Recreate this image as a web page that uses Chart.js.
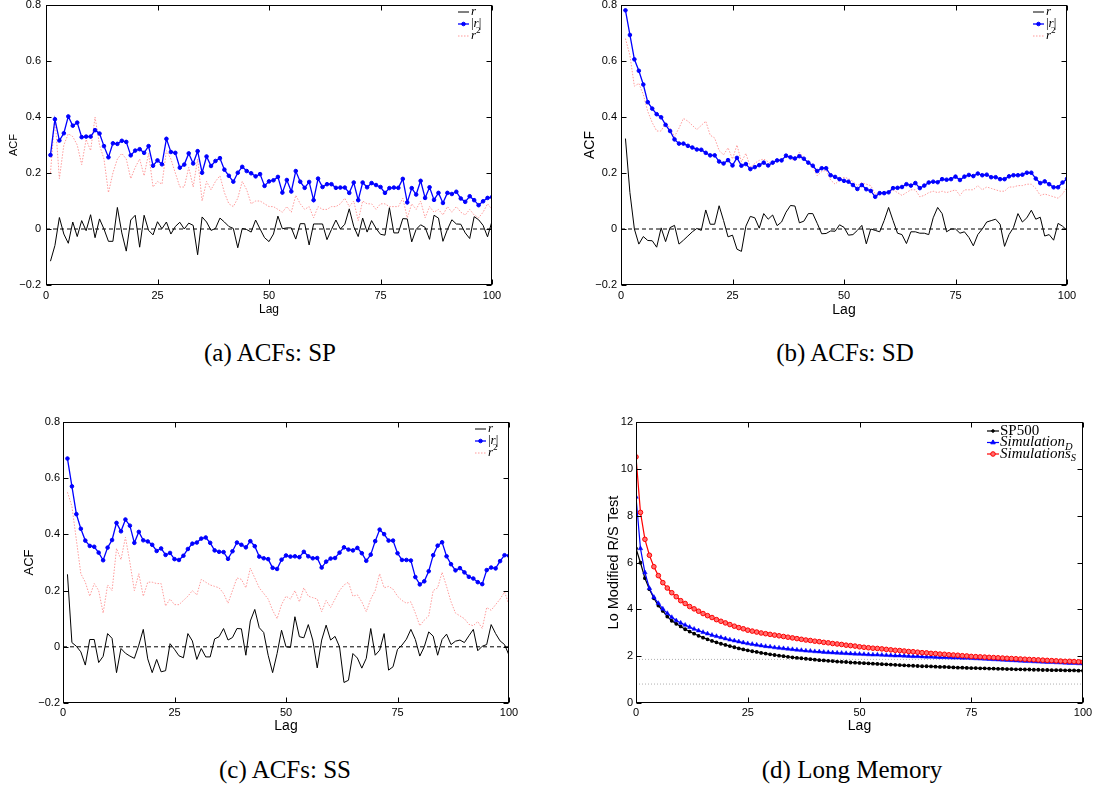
<!DOCTYPE html>
<html><head><meta charset="utf-8">
<script src="https://cdn.jsdelivr.net/npm/chart.js@4.4.1/dist/chart.umd.min.js"></script>
<style>
html,body{margin:0;padding:0;background:#fff;}
body{width:1101px;height:787px;position:relative;overflow:hidden;}
.pane{position:absolute;}
.cap{position:absolute;font-family:"Liberation Serif","Times New Roman",serif;font-size:25px;color:#000;white-space:nowrap;transform:translate(-50%,-50%);}
</style></head><body>
<div class="pane" style="left:0;top:0;width:550px;height:320px"><canvas id="ca"></canvas></div>
<div class="pane" style="left:560px;top:0;width:540px;height:320px"><canvas id="cb"></canvas></div>
<div class="pane" style="left:0;top:400px;width:550px;height:340px"><canvas id="cc"></canvas></div>
<div class="pane" style="left:560px;top:400px;width:540px;height:340px"><canvas id="cd"></canvas></div>
<div class="cap" id="capA" style="left:270px;top:353px"></div>
<div class="cap" id="capB" style="left:845px;top:353px"></div>
<div class="cap" id="capC" style="left:285px;top:770px"></div>
<div class="cap" id="capD" style="left:852px;top:770px"></div>
<script>
// ---------------- DATA ----------------
const captions = ['(a) ACFs: SP', '(b) ACFs: SD', '(c) ACFs: SS', '(d) Long Memory'];
const xTitle = 'Lag';
const acfTitle = 'ACF';
const lrsTitle = 'Lo Modified R/S Test';
const acfLabels = ['r', '|r|', 'r^2'];
const lrsLabels = ['SP500', 'Simulation_D', 'Simulations_S'];
const xTicks = [0, 25, 50, 75, 100];
const acfYTicks = [-0.2, 0, 0.2, 0.4, 0.6, 0.8];
const lrsYTicks = [0, 2, 4, 6, 8, 10, 12];
const zeroLineX = [0, 100];
const zeroLineY = [0, 0];
const loCritical = [0.809, 1.862];

const lagsACF = []; for (let i = 1; i <= 100; i++) lagsACF.push(i);
const lagsLRS = []; for (let i = 0; i <= 100; i++) lagsLRS.push(i);

// (a) SP
const rSP = [-0.115,-0.059,0.041,-0.018,-0.051,0.025,-0.027,0.030,-0.006,0.051,
-0.031,0.036,0.000,-0.044,-0.044,0.077,-0.014,-0.079,0.032,0.049,
-0.065,0.049,-0.005,-0.021,0.026,0.001,0.025,-0.018,0.009,0.024,
0.000,0.021,0.013,-0.092,0.043,0.025,-0.005,0.002,0.039,0.025,
0.009,0.002,-0.067,0.002,-0.002,-0.011,0.032,0.000,-0.031,-0.045,
-0.018,0.046,0.001,0.004,0.004,-0.036,0.019,0.019,-0.057,0.018,
0.018,0.018,-0.038,-0.002,0.032,0.000,0.017,0.072,0.009,-0.027,
0.039,-0.011,0.030,0.002,-0.019,-0.022,0.076,-0.014,-0.014,0.037,
0.036,-0.046,-0.001,0.015,0.006,-0.037,0.049,0.039,-0.044,-0.002,
0.033,0.018,0.017,-0.014,-0.034,0.044,0.033,0.013,-0.028,0.028];
const absSP = [0.264,0.392,0.316,0.342,0.402,0.369,0.380,0.328,0.330,0.330,
0.353,0.341,0.296,0.256,0.306,0.304,0.315,0.311,0.263,0.280,
0.285,0.272,0.296,0.226,0.245,0.231,0.322,0.275,0.272,0.219,
0.230,0.270,0.234,0.278,0.201,0.259,0.225,0.243,0.253,0.212,
0.190,0.169,0.201,0.222,0.207,0.199,0.188,0.196,0.154,0.170,
0.174,0.186,0.130,0.175,0.134,0.207,0.169,0.147,0.168,0.103,
0.180,0.150,0.160,0.160,0.147,0.148,0.148,0.129,0.166,0.103,
0.166,0.149,0.164,0.157,0.150,0.129,0.146,0.148,0.147,0.179,
0.095,0.146,0.123,0.172,0.111,0.149,0.104,0.129,0.093,0.129,
0.125,0.133,0.109,0.097,0.117,0.103,0.085,0.099,0.111,0.114];
const sqSP = [0.20,0.40,0.18,0.30,0.34,0.33,0.30,0.23,0.32,0.28,
0.40,0.30,0.25,0.13,0.20,0.25,0.27,0.25,0.18,0.22,
0.25,0.19,0.27,0.15,0.17,0.16,0.28,0.25,0.20,0.15,
0.15,0.22,0.15,0.25,0.10,0.17,0.14,0.17,0.19,0.13,
0.09,0.08,0.11,0.17,0.14,0.09,0.10,0.10,0.09,0.08,
0.08,0.07,0.06,0.08,0.06,0.12,0.09,0.07,0.08,0.04,
0.08,0.07,0.07,0.08,0.08,0.09,0.11,0.08,0.10,0.03,
0.10,0.09,0.09,0.07,0.09,0.09,0.08,0.08,0.08,0.11,
0.04,0.09,0.07,0.10,0.04,0.08,0.06,0.07,0.05,0.08,
0.06,0.08,0.06,0.05,0.07,0.05,0.04,0.06,0.09,0.07];

// (b) SD
const rSD = [0.323,0.130,0.000,-0.054,-0.027,-0.041,-0.042,-0.065,0.004,-0.045,
0.005,0.013,-0.054,-0.040,-0.025,-0.010,0.002,-0.005,0.068,0.017,
0.017,0.083,0.030,-0.028,-0.022,-0.072,-0.080,0.010,0.045,0.040,
0.003,0.055,0.035,0.050,0.012,0.025,0.060,0.084,0.082,0.022,
0.028,0.055,0.055,0.020,-0.017,-0.016,-0.007,-0.008,0.015,0.006,
-0.022,-0.020,-0.005,0.013,-0.053,0.000,-0.005,-0.010,0.030,0.077,
0.030,-0.015,-0.020,-0.052,-0.010,-0.010,-0.015,-0.015,-0.020,0.040,
0.077,0.055,-0.010,0.000,0.000,-0.015,-0.010,-0.030,-0.060,-0.020,
0.000,0.025,0.030,0.035,0.017,-0.062,-0.020,0.005,0.055,0.025,
0.040,0.067,0.035,0.042,-0.025,-0.020,-0.040,0.020,0.010,-0.005];
const absSD = [0.781,0.693,0.606,0.565,0.516,0.453,0.430,0.410,0.399,0.372,
0.350,0.320,0.305,0.305,0.297,0.291,0.284,0.283,0.272,0.263,
0.263,0.241,0.234,0.246,0.227,0.254,0.226,0.232,0.214,0.221,
0.228,0.237,0.227,0.237,0.245,0.245,0.262,0.256,0.252,0.260,
0.251,0.237,0.226,0.207,0.217,0.217,0.192,0.186,0.178,0.172,
0.169,0.157,0.143,0.157,0.142,0.136,0.115,0.128,0.128,0.131,
0.146,0.147,0.150,0.160,0.155,0.164,0.146,0.155,0.166,0.169,
0.167,0.178,0.176,0.178,0.187,0.175,0.187,0.193,0.189,0.198,
0.192,0.194,0.185,0.185,0.178,0.178,0.188,0.192,0.192,0.194,
0.201,0.201,0.180,0.164,0.170,0.160,0.149,0.149,0.166,0.179];
const sqSD = [0.68,0.62,0.51,0.52,0.48,0.42,0.38,0.35,0.35,0.38,
0.36,0.33,0.36,0.395,0.385,0.37,0.355,0.37,0.385,0.335,
0.325,0.28,0.265,0.29,0.25,0.30,0.24,0.27,0.22,0.235,
0.245,0.25,0.24,0.23,0.245,0.25,0.26,0.25,0.245,0.275,
0.25,0.24,0.22,0.19,0.205,0.21,0.175,0.16,0.175,0.185,
0.18,0.17,0.155,0.165,0.16,0.155,0.125,0.125,0.13,0.13,
0.14,0.13,0.12,0.13,0.14,0.14,0.115,0.12,0.13,0.135,
0.13,0.135,0.13,0.135,0.14,0.12,0.14,0.14,0.14,0.155,
0.14,0.15,0.145,0.14,0.135,0.135,0.15,0.15,0.155,0.155,
0.16,0.16,0.145,0.12,0.125,0.12,0.115,0.11,0.125,0.15];

// (c) SS
const rSS = [0.258,0.015,0.002,-0.018,-0.065,0.026,0.026,-0.056,-0.034,0.047,
0.030,-0.092,-0.006,-0.023,-0.033,-0.041,0.006,0.062,-0.043,-0.092,
-0.045,-0.089,-0.085,0.011,-0.009,-0.032,-0.039,0.047,0.021,-0.045,
-0.006,-0.036,-0.036,0.028,0.036,0.065,0.024,0.033,0.065,0.064,
-0.030,0.092,0.133,0.068,0.051,-0.030,-0.092,-0.024,0.059,0.000,
-0.002,0.107,0.036,0.032,0.079,0.024,-0.075,0.024,0.077,0.024,
0.037,0.000,-0.127,-0.119,-0.024,-0.040,-0.076,-0.041,0.065,-0.030,
-0.012,0.047,-0.083,-0.071,-0.009,0.006,0.027,0.062,0.026,-0.033,
0.000,0.053,0.038,-0.030,0.026,0.045,0.008,0.020,0.024,0.015,
0.039,0.062,-0.014,0.002,0.008,0.079,0.047,0.021,0.008,-0.030];
const absSS = [0.670,0.571,0.472,0.420,0.378,0.359,0.356,0.335,0.308,0.353,
0.380,0.441,0.411,0.453,0.431,0.370,0.409,0.379,0.375,0.363,
0.341,0.350,0.327,0.334,0.312,0.309,0.324,0.348,0.367,0.371,
0.385,0.389,0.370,0.343,0.338,0.337,0.313,0.340,0.371,0.363,
0.354,0.376,0.358,0.321,0.315,0.312,0.281,0.277,0.310,0.325,
0.321,0.322,0.319,0.338,0.322,0.315,0.316,0.282,0.303,0.314,
0.316,0.335,0.354,0.346,0.343,0.352,0.333,0.306,0.328,0.376,
0.417,0.401,0.378,0.378,0.333,0.309,0.309,0.307,0.248,0.222,
0.233,0.269,0.326,0.360,0.372,0.322,0.294,0.272,0.280,0.265,
0.249,0.243,0.230,0.223,0.273,0.282,0.279,0.305,0.326,0.324];
const sqSS = [0.55,0.50,0.38,0.26,0.23,0.18,0.225,0.20,0.12,0.22,
0.20,0.35,0.31,0.39,0.30,0.20,0.26,0.18,0.23,0.23,
0.225,0.225,0.145,0.17,0.15,0.15,0.165,0.18,0.20,0.185,
0.24,0.23,0.22,0.215,0.21,0.19,0.155,0.20,0.245,0.24,
0.21,0.28,0.245,0.21,0.19,0.17,0.13,0.10,0.15,0.18,
0.17,0.20,0.16,0.21,0.18,0.175,0.17,0.125,0.165,0.14,
0.17,0.20,0.22,0.23,0.18,0.185,0.16,0.125,0.17,0.20,
0.26,0.21,0.215,0.205,0.18,0.165,0.155,0.16,0.12,0.075,
0.095,0.11,0.20,0.21,0.265,0.215,0.16,0.12,0.11,0.10,
0.08,0.075,0.09,0.065,0.14,0.13,0.15,0.17,0.195,0.15];

// (d) Long memory (lags 0..100)
const lrsSP500 = [6.60,5.99,5.33,4.86,4.47,4.16,3.93,3.69,3.51,3.38,3.27,
3.15,3.05,2.96,2.87,2.79,2.72,2.65,2.59,2.53,2.48,
2.43,2.38,2.33,2.29,2.25,2.21,2.18,2.14,2.11,2.08,
2.05,2.02,2.00,1.97,1.95,1.93,1.91,1.89,1.87,1.85,
1.83,1.82,1.80,1.79,1.77,1.76,1.75,1.73,1.72,1.71,
1.70,1.69,1.68,1.67,1.66,1.65,1.64,1.63,1.62,1.61,
1.60,1.59,1.58,1.57,1.57,1.56,1.55,1.54,1.54,1.53,
1.52,1.51,1.51,1.50,1.49,1.49,1.48,1.48,1.47,1.47,
1.46,1.46,1.45,1.45,1.44,1.44,1.43,1.43,1.42,1.42,
1.41,1.41,1.40,1.40,1.40,1.39,1.39,1.39,1.38,1.38];
const lrsSimD = [8.80,6.60,5.57,4.90,4.52,4.26,4.02,3.83,3.66,3.52,3.42,
3.33,3.24,3.16,3.09,3.02,2.96,2.90,2.85,2.80,2.75,
2.70,2.66,2.62,2.58,2.54,2.51,2.48,2.45,2.42,2.40,
2.37,2.35,2.33,2.31,2.29,2.27,2.25,2.23,2.22,2.20,
2.19,2.17,2.16,2.15,2.14,2.13,2.12,2.11,2.10,2.09,
2.08,2.07,2.06,2.06,2.05,2.04,2.03,2.02,2.02,2.01,
2.00,1.99,1.99,1.98,1.97,1.97,1.96,1.95,1.95,1.94,
1.93,1.93,1.92,1.92,1.91,1.90,1.89,1.88,1.87,1.86,
1.85,1.84,1.83,1.82,1.81,1.80,1.79,1.78,1.77,1.76,
1.75,1.74,1.74,1.73,1.72,1.71,1.70,1.70,1.69,1.68];
const lrsSimS = [10.51,8.14,6.99,6.31,5.82,5.44,5.14,4.91,4.71,4.54,4.37,
4.25,4.12,4.02,3.92,3.82,3.73,3.65,3.56,3.49,3.42,
3.35,3.28,3.22,3.17,3.11,3.07,3.03,2.99,2.96,2.93,
2.90,2.87,2.84,2.81,2.78,2.75,2.72,2.69,2.67,2.64,
2.62,2.59,2.57,2.54,2.52,2.50,2.47,2.45,2.43,2.40,
2.38,2.36,2.34,2.33,2.31,2.29,2.27,2.25,2.24,2.22,
2.20,2.19,2.17,2.15,2.14,2.12,2.11,2.09,2.08,2.06,
2.05,2.04,2.02,2.01,1.99,1.98,1.97,1.96,1.95,1.94,
1.93,1.92,1.91,1.90,1.89,1.88,1.87,1.86,1.85,1.84,
1.83,1.82,1.81,1.80,1.79,1.78,1.78,1.77,1.76,1.75];

// ---------------- RENDERING ----------------
const SANS = '"Liberation Sans", Arial, Helvetica, sans-serif';
const SERIF = '"Liberation Serif", "Times New Roman", serif';
function pts(xs, ys) { return ys.map((v, i) => ({x: xs[i], y: v})); }

function drawRich(ctx, text, x, y, size, italic) {
  let i = 0;
  ctx.textBaseline = 'middle';
  ctx.textAlign = 'left';
  while (i < text.length) {
    let ch = text[i], dy = 0, s = size;
    if ((ch === '^' || ch === '_') && i + 1 < text.length) {
      dy = ch === '^' ? -0.42 * size : 0.3 * size; s = 0.7 * size; ch = text[i + 1]; i += 2;
    } else i++;
    const it = italic && /[A-Za-z]/.test(ch);
    ctx.font = (it ? 'italic ' : '') + s + 'px ' + SERIF;
    ctx.fillStyle = '#000';
    ctx.fillText(ch, x, y + dy);
    x += ctx.measureText(ch).width;
  }
}
function marker(ctx, style, r, x, y, fill, stroke) {
  ctx.beginPath();
  if (style === 'triangle') {
    ctx.moveTo(x, y - r); ctx.lineTo(x + r * 0.87, y + r * 0.5); ctx.lineTo(x - r * 0.87, y + r * 0.5); ctx.closePath();
  } else { ctx.arc(x, y, r, 0, Math.PI * 2); }
  ctx.fillStyle = fill; ctx.fill(); ctx.strokeStyle = stroke; ctx.lineWidth = 1; ctx.stroke();
}

const framePlugin = {
  id: 'frame',
  afterDatasetsDraw(chart) {
    const {ctx, chartArea: a, scales: {x, y}} = chart;
    ctx.save();
    ctx.strokeStyle = '#000'; ctx.lineWidth = 1; ctx.setLineDash([]);
    const L = Math.round(a.left) + 0.5, R = Math.round(a.right) - 0.5, T = Math.round(a.top) + 0.5, B = Math.round(a.bottom) - 0.5;
    ctx.strokeRect(L, T, R - L, B - T);
    const k = 5;
    ctx.beginPath();
    x.ticks.forEach(t => { const p = Math.round(x.getPixelForValue(t.value)) + 0.5; ctx.moveTo(p, B); ctx.lineTo(p, B - k); ctx.moveTo(p, T); ctx.lineTo(p, T + k); });
    y.ticks.forEach(t => { const p = Math.round(y.getPixelForValue(t.value)) + 0.5; ctx.moveTo(L, p); ctx.lineTo(L + k, p); ctx.moveTo(R, p); ctx.lineTo(R - k, p); });
    ctx.stroke();
    ctx.restore();
  }
};
const legendPlugin = {
  id: 'mlegend',
  afterDraw(chart, args, o) {
    const {ctx, chartArea: a} = chart;
    ctx.save();
    let row = 0;
    chart.data.datasets.forEach(ds => {
      if (!ds.label) return;
      const yy = a.top + o.first + row * o.step;
      const x0 = a.right - o.fromRight;
      ctx.strokeStyle = ds.borderColor; ctx.lineWidth = ds.borderWidth; ctx.setLineDash(ds.borderDash || []);
      ctx.beginPath(); ctx.moveTo(x0, yy); ctx.lineTo(x0 + o.len, yy); ctx.stroke(); ctx.setLineDash([]);
      if (ds.pointRadius > 0) marker(ctx, ds.pointStyle, ds.pointRadius, x0 + o.len / 2, yy, ds.pointBackgroundColor || ds.borderColor, ds.borderColor);
      drawRich(ctx, ds.label, x0 + o.len + o.gap, yy, o.size, ds.legendItalic !== false);
      row++;
    });
    ctx.restore();
  }
};

function makeChart(id, g, datasets, yMin, yMax, yStep, yFmt, yTitle, leg) {
  return new Chart(document.getElementById(id), {
    type: 'line',
    data: {datasets},
    plugins: [framePlugin, legendPlugin],
    options: {
      responsive: true, maintainAspectRatio: false, animation: false,
      events: [],
      elements: {line: {tension: 0, fill: false}},
      layout: {padding: {left: 0, top: g.top, right: g.right, bottom: 0}},
      plugins: {legend: {display: false}, tooltip: {enabled: false}, mlegend: leg},
      scales: {
        x: {
          type: 'linear', min: 0, max: 100,
          grid: {display: false, drawTicks: false, tickLength: 0}, border: {display: false},
          afterBuildTicks: s => { s.ticks = xTicks.map(v => ({value: v})); },
          ticks: {padding: g.xTickPad, color: '#000', font: {family: SANS, size: 11}, maxRotation: 0, autoSkip: false},
          title: {display: true, text: xTitle, color: '#000', font: {family: SANS, size: g.titleSize}, padding: {top: 0, bottom: g.xTitlePad}},
          afterFit: s => { s.height = g.xH; s.paddingLeft = 0; s.paddingRight = 0; }
        },
        y: {
          type: 'linear', min: yMin, max: yMax,
          grid: {display: false, drawTicks: false, tickLength: 0}, border: {display: false},
          afterBuildTicks: s => { s.ticks = yStep.map(v => ({value: v})); },
          ticks: {padding: g.yTickPad, color: '#000', font: {family: SANS, size: 11}, callback: yFmt, autoSkip: false},
          title: {display: true, text: yTitle, color: '#000', font: {family: SANS, size: g.yTitleSize}, padding: {top: g.yTitlePad, bottom: 0}},
          afterFit: s => { s.width = g.yW; s.paddingTop = 0; s.paddingBottom = 0; }
        }
      }
    }
  });
}

const acfFmt = v => { const r = Math.round(v * 10) / 10; if (Math.abs(r) < 1e-9) return '0'; return (r < 0 ? '\u2212' : '') + Math.abs(r).toFixed(1); };
const intFmt = v => String(Math.round(v));

function acfSets(r, ab, sq) {
  return [
    {data: pts(zeroLineX, zeroLineY), borderColor: '#000', borderWidth: 1, borderDash: [4, 3], pointRadius: 0},
    {label: acfLabels[0], data: pts(lagsACF, r), borderColor: '#000', borderWidth: 1, pointRadius: 0},
    {label: acfLabels[1], data: pts(lagsACF, ab), borderColor: '#0000ff', pointBackgroundColor: '#0000ff', pointBorderColor: '#0000ff', borderWidth: 1.3, pointRadius: 1.8, pointBorderWidth: 1, pointStyle: 'circle'},
    {label: acfLabels[2], data: pts(lagsACF, sq), borderColor: '#ff9a9a', borderWidth: 1, borderDash: [1.5, 1.5], pointRadius: 0}
  ];
}
const acfLeg = {first: 7, step: 12, fromRight: 34, len: 11, gap: 2, size: 13};

makeChart('ca', {top: 4, right: 58, yW: 46, xH: 35, xTickPad: 4.5, titleSize: 12, xTitlePad: 2.8, yTickPad: 5, yTitleSize: 11, yTitlePad: 6.9},
  acfSets(rSP, absSP, sqSP), -0.2, 0.8, acfYTicks, acfFmt, acfTitle, acfLeg);
makeChart('cb', {top: 4, right: 33, yW: 61, xH: 35, xTickPad: 4.5, titleSize: 14, xTitlePad: 1.6, yTickPad: 4, yTitleSize: 14, yTitlePad: 21.6},
  acfSets(rSD, absSD, sqSD), -0.2, 0.8, acfYTicks, acfFmt, acfTitle, acfLeg);
makeChart('cc', {top: 22, right: 41, yW: 63, xH: 37, xTickPad: 3.5, titleSize: 14, xTitlePad: 5, yTickPad: 3, yTitleSize: 13, yTitlePad: 21.2},
  acfSets(rSS, absSS, sqSS), -0.2, 0.8, acfYTicks, acfFmt, acfTitle, acfLeg);
makeChart('cd', {top: 22, right: 17, yW: 76, xH: 37, xTickPad: 3.5, titleSize: 14, xTitlePad: 5, yTickPad: 3, yTitleSize: 14.5, yTitlePad: 45.3},
  [
    {data: pts(zeroLineX, [loCritical[1], loCritical[1]]), borderColor: '#b0b0b0', borderWidth: 1, borderDash: [1, 2], pointRadius: 0, order: 5},
    {data: pts(zeroLineX, [loCritical[0], loCritical[0]]), borderColor: '#b0b0b0', borderWidth: 1, borderDash: [1, 2], pointRadius: 0, order: 5},
    {label: lrsLabels[0], legendItalic: false, data: pts(lagsLRS, lrsSP500), borderColor: '#000', pointBackgroundColor: '#000', pointBorderColor: '#000', borderWidth: 1.2, pointRadius: 1.3, pointStyle: 'circle', order: 3},
    {label: lrsLabels[1], data: pts(lagsLRS, lrsSimD), borderColor: '#0000ff', pointBackgroundColor: '#0000ff', pointBorderColor: '#0000ff', borderWidth: 1.2, pointRadius: 2.6, pointBorderWidth: 0.5, pointStyle: 'triangle', order: 2},
    {label: lrsLabels[2], data: pts(lagsLRS, lrsSimS), borderColor: '#ff0000', pointBackgroundColor: '#ff7070', pointBorderColor: '#ff0000', borderWidth: 1.2, pointRadius: 2.3, pointBorderWidth: 1, pointStyle: 'circle', order: 1}
  ], 0, 12, lrsYTicks, intFmt, lrsTitle, {first: 9, step: 11.5, fromRight: 96, len: 12, gap: 1, size: 15});

['capA', 'capB', 'capC', 'capD'].forEach((id, i) => { document.getElementById(id).textContent = captions[i]; });
</script>
</body></html>
